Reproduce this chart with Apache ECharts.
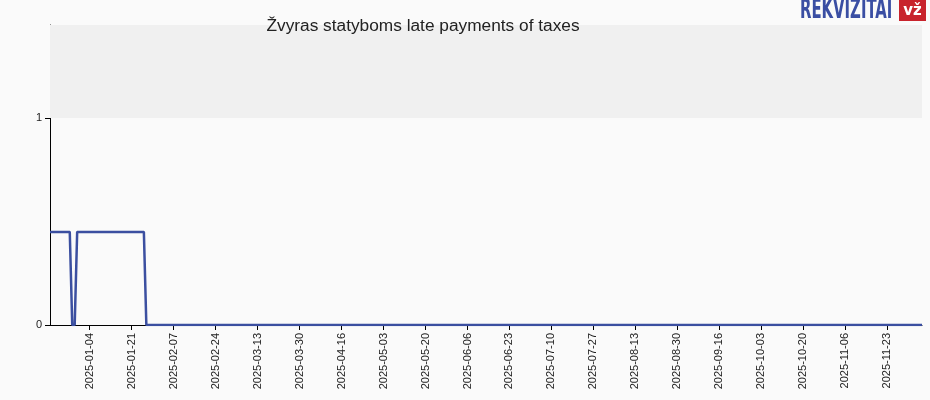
<!DOCTYPE html>
<html><head><meta charset="utf-8">
<script src="https://cdn.jsdelivr.net/npm/echarts@6/dist/echarts.min.js"></script>
<style>html,body{margin:0;padding:0;background:#fafafa;}#c{width:930px;height:400px;}</style>
</head><body><div id="c"></div>
<script>
var titleText = 'Žvyras statyboms late payments of taxes';
var startDate = '2024-12-19';
var endDate = '2025-12-07';
var tickLabels = ['2025-01-04','2025-01-21','2025-02-07','2025-02-24','2025-03-13','2025-03-30','2025-04-16','2025-05-03','2025-05-20','2025-06-06','2025-06-23','2025-07-10','2025-07-27','2025-08-13','2025-08-30','2025-09-16','2025-10-03','2025-10-20','2025-11-06','2025-11-23'];
var pointDates = ['2024-12-19','2024-12-27','2024-12-28','2024-12-29','2024-12-30','2025-01-26','2025-01-27','2025-12-07'];
var pointValues = [0.45,0.45,0,0,0.45,0.45,0,0];
var yTicks = [0,1];

function fmt(d){var m=d.getUTCMonth()+1,dd=d.getUTCDate();return d.getUTCFullYear()+'-'+(m<10?'0':'')+m+'-'+(dd<10?'0':'')+dd;}
var categories=[];
for(var t=Date.parse(startDate+'T00:00:00Z');t<=Date.parse(endDate+'T00:00:00Z');t+=86400000){categories.push(fmt(new Date(t)));}
var tickSet={};tickLabels.forEach(function(s){tickSet[s]=true;});
var showTick=function(i,v){return !!tickSet[categories[i]];};

var chart=echarts.init(document.getElementById('c'),null,{renderer:'canvas'});
chart.setOption({
  backgroundColor:'#fafafa',
  animation:false,
  title:{text:titleText,left:418,textAlign:'center',top:13,textStyle:{fontFamily:'Liberation Sans, Arial, sans-serif',fontSize:17.3,fontWeight:'normal',color:'#222'}},
  graphic:[
    {type:'text',x:800,y:-2,scaleX:0.635,scaleY:1,style:{text:'REKVIZITAI',font:'bold 26px "DejaVu Sans Condensed", sans-serif',fill:'#3a4ea3',textVerticalAlign:'top'}},
    {type:'rect',shape:{x:899,y:0,width:27,height:21},style:{fill:'#c8232c'}},
    {type:'text',x:912.5,y:11,style:{text:'vž',font:'bold 15px "DejaVu Sans", sans-serif',fill:'#fff',textAlign:'center',textVerticalAlign:'middle'}}
  ],
  grid:{left:50,right:8,top:25,bottom:75,containLabel:false},
  xAxis:{type:'category',data:categories,boundaryGap:false,
    axisLine:{lineStyle:{color:'#000',width:1}},
    axisTick:{show:true,interval:showTick,length:5,lineStyle:{color:'#000'}},
    axisLabel:{interval:showTick,rotate:90,fontSize:11,color:'#222',fontFamily:'Liberation Sans, Arial, sans-serif',margin:8},
    splitLine:{show:false}},
  yAxis:{type:'value',min:0,max:1.45,interval:1,
    axisLine:{show:true,lineStyle:{color:'#000'}},
    axisTick:{show:true,length:5,customValues:yTicks,lineStyle:{color:'#000'}},
    axisLabel:{fontSize:11,color:'#222',fontFamily:'Liberation Sans, Arial, sans-serif',margin:8,customValues:yTicks},
    splitLine:{show:false}},
  series:[{type:'line',data:pointDates.map(function(d,i){return [d,pointValues[i]];}),
    showSymbol:false,symbol:'none',lineStyle:{color:'#3b4fa0',width:2.5},
    markArea:{silent:true,itemStyle:{color:'#f0f0f0'},data:[[{yAxis:1},{yAxis:1.45}]]}}]
});
</script></body></html>
